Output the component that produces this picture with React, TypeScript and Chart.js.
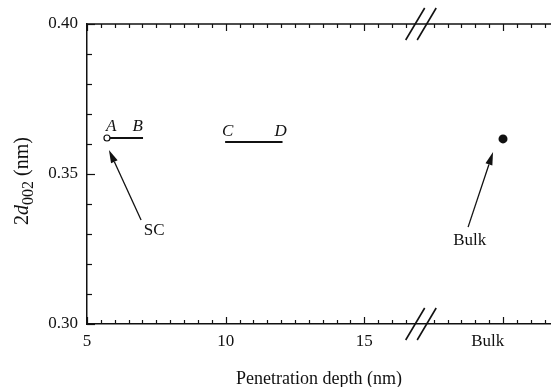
import React, { useEffect, useRef } from 'react';
import { Chart, registerables } from 'chart.js';

Chart.register(...registerables);

// ---- axis ticks ----
const xTickValues = [5, 10, 15, 19.45];
const xTickLabels = ['5', '10', '15', 'Bulk'];
const yTickValues = [0.3, 0.35, 0.4];
const yTickLabels = ['0.30', '0.35', '0.40'];
const xMinorStep = 0.5;
const yMinorStep = 0.01;
const xBreakValue = 17.04;

// ---- series ----
const segABx = [5.72, 7.02];
const segABy = [0.362, 0.362];
const segCDx = [9.98, 12.05];
const segCDy = [0.3607, 0.3607];
const bulkX = [20];
const bulkY = [0.3617];

// ---- annotations (data coordinates) ----
const letterText = ['A', 'B', 'C', 'D'];
const letterX = [5.87, 6.83, 10.07, 11.98];
const letterY = [0.3657, 0.3657, 0.3643, 0.3643];
const arrowText = ['SC', 'Bulk'];
const arrowTailX = [6.95, 18.74];
const arrowTailY = [0.3347, 0.3323];
const arrowTipX = [5.79, 19.64];
const arrowTipY = [0.358, 0.3573];
const arrowTextX = [7.42, 18.8];
const arrowTextY = [0.331, 0.3277];

const FONT = "'Liberation Serif', 'Times New Roman', serif";
const INK = '#111';

export default function App() {
  const ref = useRef<HTMLCanvasElement>(null);

  useEffect(() => {
    const canvas = ref.current;
    if (!canvas) return;

    const decor = {
      id: 'decor',
      afterDraw(chart: any) {
        const { ctx, chartArea: a, scales } = chart;
        const xs = scales.x;
        const ys = scales.y;
        const line = (x1: number, y1: number, x2: number, y2: number) => {
          ctx.beginPath();
          ctx.moveTo(x1, y1);
          ctx.lineTo(x2, y2);
          ctx.stroke();
        };
        ctx.save();
        ctx.strokeStyle = INK;
        ctx.fillStyle = INK;
        ctx.lineCap = 'butt';

        // top frame line
        ctx.lineWidth = 1.5;
        line(a.left, a.top, a.right, a.top);

        // y ticks (inward)
        ctx.lineWidth = 1.2;
        const yMin = ys.min;
        const nY = Math.round((ys.max - ys.min) / yMinorStep);
        for (let i = 0; i <= nY; i++) {
          const v = yMin + i * yMinorStep;
          const y = Math.round(ys.getPixelForValue(v)) + 0.5;
          const len = i % 5 === 0 ? 8 : 5;
          line(a.left, y, a.left + len, y);
        }

        // x ticks (inward, bottom and top)
        const nX = Math.floor((xs.max - xs.min) / xMinorStep);
        for (let i = 0; i <= nX; i++) {
          const v = xs.min + i * xMinorStep;
          if (Math.abs(v - xBreakValue) < 0.3) continue;
          const px = Math.round(xs.getPixelForValue(v)) + 0.5;
          if (px > a.right) continue;
          const major = Math.abs(v % 5) < 1e-6;
          const len = major ? 7 : 4;
          line(px, a.bottom, px, a.bottom - len);
          line(px, a.top, px, a.top + len);
        }

        // axis break marks
        const bx = xs.getPixelForValue(xBreakValue);
        ctx.lineWidth = 1.6;
        for (const yy of [a.top, a.bottom]) {
          for (const off of [-5.75, 5.75]) {
            line(bx + off - 9.5, yy + 16, bx + off + 9.5, yy - 16);
          }
        }

        // letters A B C D
        ctx.font = `italic 17px ${FONT}`;
        ctx.textAlign = 'center';
        ctx.textBaseline = 'middle';
        for (let i = 0; i < letterText.length; i++) {
          ctx.fillText(letterText[i], xs.getPixelForValue(letterX[i]), ys.getPixelForValue(letterY[i]));
        }

        // arrows with labels
        ctx.font = `17px ${FONT}`;
        for (let i = 0; i < arrowText.length; i++) {
          const tx = xs.getPixelForValue(arrowTailX[i]);
          const ty = ys.getPixelForValue(arrowTailY[i]);
          const hx = xs.getPixelForValue(arrowTipX[i]);
          const hy = ys.getPixelForValue(arrowTipY[i]);
          const ang = Math.atan2(hy - ty, hx - tx);
          const hl = 13;
          const hw = 3.6;
          const bxp = hx - hl * Math.cos(ang);
          const byp = hy - hl * Math.sin(ang);
          ctx.lineWidth = 1.3;
          line(tx, ty, bxp, byp);
          ctx.beginPath();
          ctx.moveTo(hx, hy);
          ctx.lineTo(bxp + hw * Math.sin(ang), byp - hw * Math.cos(ang));
          ctx.lineTo(bxp - hw * Math.sin(ang), byp + hw * Math.cos(ang));
          ctx.closePath();
          ctx.fill();
          ctx.fillText(arrowText[i], xs.getPixelForValue(arrowTextX[i]), ys.getPixelForValue(arrowTextY[i]));
        }

        // y-axis title: 2d002 (nm)
        ctx.translate(28, (a.top + a.bottom) / 2 + 7);
        ctx.rotate(-Math.PI / 2);
        ctx.textAlign = 'left';
        ctx.textBaseline = 'alphabetic';
        const parts = [
          { t: '2', f: `20px ${FONT}`, dy: 0 },
          { t: 'd', f: `italic 20px ${FONT}`, dy: 0 },
          { t: '002', f: `16px ${FONT}`, dy: 5 },
          { t: ' (nm)', f: `20px ${FONT}`, dy: 0 },
        ];
        let total = 0;
        const widths = parts.map((p) => {
          ctx.font = p.f;
          const w = ctx.measureText(p.t).width;
          total += w;
          return w;
        });
        let cx = -total / 2;
        parts.forEach((p, i) => {
          ctx.font = p.f;
          ctx.fillText(p.t, cx, p.dy);
          cx += widths[i];
        });
        ctx.restore();
      },
    };

    const chart = new Chart(canvas, {
      type: 'line',
      data: {
        datasets: [
          {
            label: 'A-B',
            data: segABx.map((x, i) => ({ x, y: segABy[i] })),
            borderColor: INK,
            borderWidth: 2,
            pointRadius: [3, 0],
            pointBackgroundColor: '#fff',
            pointBorderColor: INK,
            pointBorderWidth: 1.2,
          },
          {
            label: 'C-D',
            data: segCDx.map((x, i) => ({ x, y: segCDy[i] })),
            borderColor: INK,
            borderWidth: 2,
            pointRadius: 0,
          },
          {
            label: 'Bulk',
            data: bulkX.map((x, i) => ({ x, y: bulkY[i] })),
            showLine: false,
            pointRadius: 4.5,
            pointBackgroundColor: INK,
            pointBorderColor: INK,
            pointBorderWidth: 0,
          },
        ],
      },
      options: {
        animation: false,
        responsive: false,
        devicePixelRatio: 1,
        layout: { autoPadding: false, padding: { top: 24, left: 0, right: 0, bottom: 0 } },
        plugins: {
          legend: { display: false },
          tooltip: { enabled: false },
        },
        scales: {
          x: {
            type: 'linear',
            position: 'bottom',
            min: 5,
            max: 21.73,
            grid: { display: false, drawTicks: false },
            border: { display: true, color: INK, width: 1.5 },
            afterBuildTicks: (s: any) => {
              s.ticks = xTickValues.map((v) => ({ value: v }));
            },
            afterFit: (s: any) => {
              s.height = 63;
              s.paddingLeft = 0;
              s.paddingRight = 0;
            },
            ticks: {
              autoSkip: false,
              maxRotation: 0,
              padding: 7,
              color: INK,
              font: { family: FONT, size: 17 },
              callback: (v: any) => {
                const i = xTickValues.indexOf(Number(v));
                return i >= 0 ? xTickLabels[i] : '';
              },
            },
            title: {
              display: true,
              text: 'Penetration depth (nm)',
              color: INK,
              font: { family: FONT, size: 18 },
              padding: { top: 0, bottom: -3 },
            },
          },
          y: {
            type: 'linear',
            min: 0.3,
            max: 0.4,
            grid: { display: false, drawTicks: false },
            border: { display: true, color: INK, width: 1.5 },
            afterBuildTicks: (s: any) => {
              s.ticks = yTickValues.map((v) => ({ value: v }));
            },
            afterFit: (s: any) => {
              s.width = 87;
              s.paddingTop = 0;
              s.paddingBottom = 0;
            },
            ticks: {
              padding: 9,
              color: INK,
              font: { family: FONT, size: 17 },
              callback: (v: any) => {
                const i = yTickValues.findIndex((t) => Math.abs(t - Number(v)) < 1e-9);
                return i >= 0 ? yTickLabels[i] : '';
              },
            },
          },
        },
      },
      plugins: [decor],
    } as any);

    return () => chart.destroy();
  }, []);

  return (
    <div style={{ position: 'absolute', left: 0, top: 0, width: 551, height: 387, background: '#fff' }}>
      <canvas ref={ref} width={551} height={387} style={{ display: 'block', width: 551, height: 387 }} />
    </div>
  );
}
